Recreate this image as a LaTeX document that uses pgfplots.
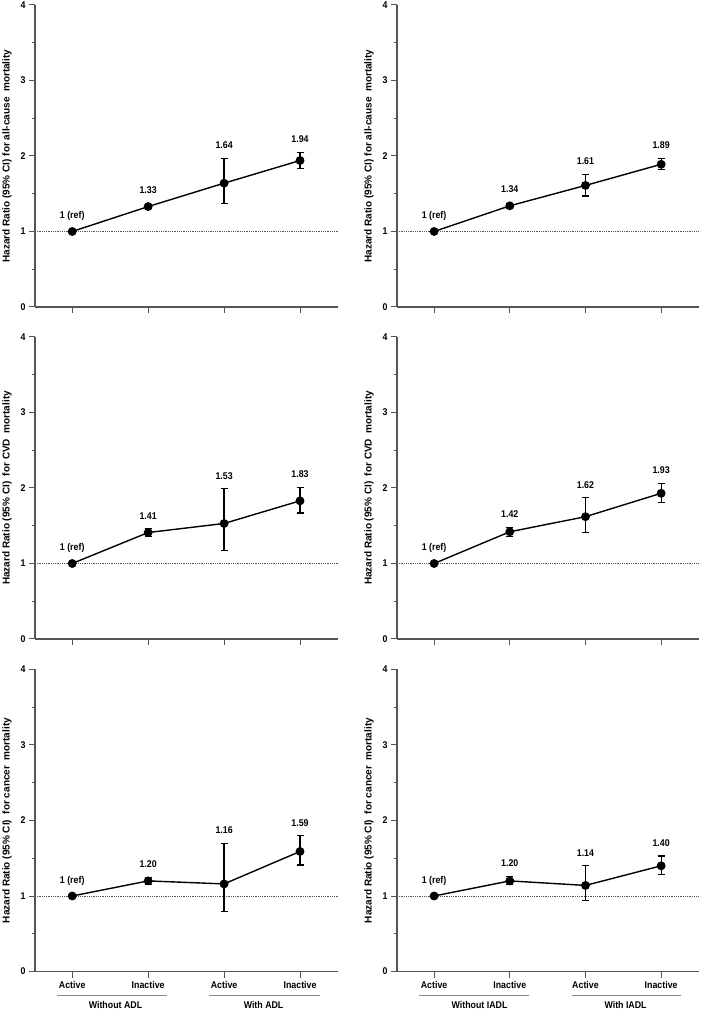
\documentclass[border=0pt]{standalone}
\usepackage{pgfplots}
\pgfplotsset{compat=1.18}
\usepackage{pgfplotstable}
\usepackage{fontspec}
\setmainfont{Liberation Sans}
\newfontfamily\hfont[FakeStretch=0.9]{Liberation Sans}
\newcommand\lab{\hfont\bfseries\fontsize{9.8}{11}\selectfont}
\newcommand\ylab{\bfseries\fontsize{10}{12}\selectfont}
\definecolor{axgray}{HTML}{555555}
\definecolor{grpgray}{HTML}{8A8A8A}

% ADL, all-cause
\pgfplotstableread[col sep=comma]{
x,y,lo,hi,ly,lab
0,1,1,1,1.2,1 (ref)
1,1.33,1.30,1.36,1.55,1.33
2,1.64,1.37,1.97,2.14,1.64
3,1.94,1.83,2.05,2.22,1.94
}\tA
% IADL, all-cause
\pgfplotstableread[col sep=comma]{
x,y,lo,hi,ly,lab
0,1,1,1,1.2,1 (ref)
1,1.34,1.31,1.37,1.56,1.34
2,1.61,1.47,1.76,1.93,1.61
3,1.89,1.82,1.97,2.14,1.89
}\tB
% ADL, CVD
\pgfplotstableread[col sep=comma]{
x,y,lo,hi,ly,lab
0,1,1,1,1.2,1 (ref)
1,1.41,1.36,1.46,1.63,1.41
2,1.53,1.17,1.99,2.16,1.53
3,1.83,1.67,2.01,2.18,1.83
}\tC
% IADL, CVD
\pgfplotstableread[col sep=comma]{
x,y,lo,hi,ly,lab
0,1,1,1,1.2,1 (ref)
1,1.42,1.36,1.48,1.65,1.42
2,1.62,1.41,1.87,2.04,1.62
3,1.93,1.81,2.06,2.23,1.93
}\tD
% ADL, cancer
\pgfplotstableread[col sep=comma]{
x,y,lo,hi,ly,lab
0,1,1,1,1.2,1 (ref)
1,1.20,1.15,1.25,1.42,1.20
2,1.16,0.79,1.70,1.87,1.16
3,1.59,1.41,1.80,1.97,1.59
}\tE
% IADL, cancer
\pgfplotstableread[col sep=comma]{
x,y,lo,hi,ly,lab
0,1,1,1,1.2,1 (ref)
1,1.20,1.15,1.26,1.43,1.20
2,1.14,0.94,1.40,1.57,1.14
3,1.40,1.29,1.53,1.70,1.40
}\tF

\pgfplotsset{
  hrp/.style={
    scale only axis, width=303pt, height=302pt,
    xmin=-0.49, xmax=3.5, ymin=0, ymax=4,
    axis x line*=bottom, axis y line*=left,
    axis line style={axgray, line width=1.1pt, -},
    ytick={0,1,2,3,4}, minor ytick={0.5,1.5,2.5,3.5},
    xtick={0,1,2,3}, xticklabels={},
    tick align=outside, major tick length=6pt, minor tick length=3.5pt,
    every tick/.style={axgray, line width=1pt},
    /pgf/number format/assume math mode=true,
    yticklabel style={font=\lab},
    xticklabel style={font=\lab},
    every axis y label/.style={at={(axis description cs:-0.0924,0.5)}, anchor=center, rotate=90, font=\ylab},
    clip=false,
  },
  refline/.style={densely dotted, axgray, line width=0.8pt},
  dat/.style={black, line width=1.4pt, mark=*, mark size=3.7pt, mark options={solid},
    error bars/.cd, y dir=both, y explicit,
    error bar style={line width=1.2pt, black},
    error mark options={rotate=90, mark size=3.5pt, line width=1.2pt, black}},
  labs/.style={draw=none, mark=none, nodes near coords, point meta=explicit symbolic,
    nodes near coords style={anchor=center, font=\lab, black}},
}

\newcommand\drawpanel[1]{%
  \addplot[refline] coordinates {(-0.49,1) (3.5,1)};
  \addplot[dat] table[x=x, y=y, y error plus expr=\thisrow{hi}-\thisrow{y}, y error minus expr=\thisrow{y}-\thisrow{lo}] #1;
  \addplot[labs] table[x=x, y=ly, meta=lab] #1;
}

\begin{document}
\begin{tikzpicture}
\useasboundingbox (0pt,0pt) rectangle (702pt,1011pt);

% top row
\begin{axis}[hrp, at={(35pt,704pt)}, anchor=south west,
  ylabel={Hazard Ratio (95\% CI) for all-cause~ mortality}]
\drawpanel{\tA}
\end{axis}
\begin{axis}[hrp, width=302pt, at={(397pt,704pt)}, anchor=south west,
  ylabel={Hazard Ratio (95\% CI) for all-cause~ mortality}]
\drawpanel{\tB}
\end{axis}

% middle row
\begin{axis}[hrp, at={(35pt,372pt)}, anchor=south west,
  ylabel={Hazard Ratio (95\% CI)~ for CVD~ mortality}]
\drawpanel{\tC}
\end{axis}
\begin{axis}[hrp, width=302pt, at={(397pt,372pt)}, anchor=south west,
  ylabel={Hazard Ratio (95\% CI)~ for CVD~ mortality}]
\drawpanel{\tD}
\end{axis}

% bottom row
\begin{axis}[hrp, at={(35pt,39.5pt)}, anchor=south west,
  xticklabels={Active,Inactive,Active,Inactive},
  ylabel={Hazard Ratio (95\% CI)~ for cancer~ mortality}]
\drawpanel{\tE}
\draw[grpgray, line width=1pt] (axis cs:-0.2,-0.318) -- (axis cs:1.25,-0.318);
\draw[grpgray, line width=1pt] (axis cs:1.8,-0.318) -- (axis cs:3.26,-0.318);
\node[font=\lab] at (axis cs:0.57,-0.45) {Without ADL};
\node[font=\lab] at (axis cs:2.52,-0.45) {With ADL};
\end{axis}
\begin{axis}[hrp, width=302pt, at={(397pt,39.5pt)}, anchor=south west,
  xticklabels={Active,Inactive,Active,Inactive},
  ylabel={Hazard Ratio (95\% CI)~ for cancer~ mortality}]
\drawpanel{\tF}
\draw[grpgray, line width=1pt] (axis cs:-0.2,-0.318) -- (axis cs:1.25,-0.318);
\draw[grpgray, line width=1pt] (axis cs:1.82,-0.318) -- (axis cs:3.26,-0.318);
\node[font=\lab] at (axis cs:0.6,-0.45) {Without IADL};
\node[font=\lab] at (axis cs:2.53,-0.45) {With IADL};
\end{axis}
\end{tikzpicture}
\end{document}
